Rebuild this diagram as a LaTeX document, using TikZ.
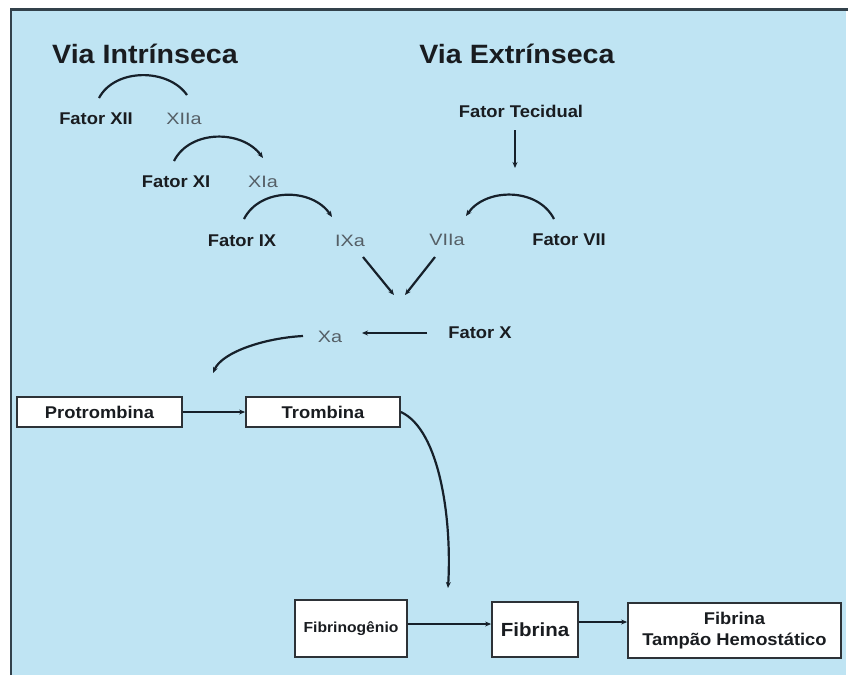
\documentclass[tikz,border=0pt]{standalone}
\usepackage{fontspec}
\setmainfont{Liberation Sans}
\newfontfamily\bfam[FakeStretch=1.08]{Liberation Sans}
\newfontfamily\gfam[FakeStretch=1.2]{Liberation Sans}
\usetikzlibrary{arrows.meta}
\definecolor{bgblue}{RGB}{191,228,243}
\definecolor{lc}{RGB}{22,32,42}
\definecolor{txtgray}{RGB}{85,95,102}
\definecolor{bordc}{RGB}{50,65,75}
\definecolor{boxline}{RGB}{45,50,55}
\definecolor{txtdark}{RGB}{25,28,32}
\begin{document}
\begin{tikzpicture}[x=1pt,y=-1pt,
  fac/.style={font=\bfam\bfseries\fontsize{17}{20}\selectfont, inner sep=0pt, anchor=base, text=txtdark},
  act/.style={font=\gfam\fontsize{16.5}{20}\selectfont, inner sep=0pt, anchor=base, text=txtgray},
  ttl/.style={font=\bfam\bfseries\fontsize{26.5}{30}\selectfont, inner sep=0pt, anchor=base, text=txtdark},
  bx/.style={draw=boxline, line width=1.8pt, fill=white, inner sep=0pt, align=center, text=txtdark},
  conn/.style={draw=lc, line width=2.2pt},
  arr/.style={conn, -{Stealth[length=6pt,width=5pt]}}]
\useasboundingbox (0,0) rectangle (848,675);
\fill[white] (0,0) rectangle (848,675);
\fill[bgblue] (10,9) rectangle (846,675);
\draw[bordc, line width=2.5pt] (11.2,675) -- (11.2,9.5) -- (848,9.5);

% titles
\node[ttl] (vi) at (145,63) {Via Intrínseca};
\node[ttl] (ve) at (517,63) {Via Extrínseca};

% intrinsic
\node[fac] (f12) at (96,124) {Fator XII};
\node[act] (a12) at (184,124) {XIIa};
\node[fac] (f11) at (176,187) {Fator XI};
\node[act] (a11) at (263,187) {XIa};
\node[fac] (f9) at (242,246) {Fator IX};
\node[act] (a9) at (350,246) {IXa};

% extrinsic
\node[fac] (ft) at (521,117) {Fator Tecidual};
\node[act] (a7) at (447,245) {VIIa};
\node[fac] (f7) at (569,245) {Fator VII};

% common
\node[act] (xa) at (330,342) {Xa};
\node[fac] (f10) at (480,338) {Fator X};

% boxes
\node[bx, minimum width=165pt, minimum height=30pt, font=\bfam\bfseries\fontsize{17}{20}\selectfont] (pro) at (99.5,412) {Protrombina};
\node[bx, minimum width=154pt, minimum height=30pt, font=\bfam\bfseries\fontsize{17}{20}\selectfont] (tro) at (323,412) {Trombina};
\node[bx, minimum width=112pt, minimum height=57pt, font=\bfam\bfseries\fontsize{14.5}{18}\selectfont] (fg) at (351,628.5) {Fibrinogênio};
\node[bx, minimum width=86pt, minimum height=55pt, font=\bfam\bfseries\fontsize{19}{22}\selectfont] (fb) at (535,629.5) {Fibrina};
\node[bx, minimum width=213pt, minimum height=55pt, font=\bfam\bfseries\fontsize{17}{21}\selectfont] (tp) at (734.5,630.5) {Fibrina\\Tampão Hemostático};

% connector end points
\coordinate (c1s) at (99,98);   \coordinate (c1e) at (187,95);
\coordinate (c2s) at (174,161); \coordinate (c2e) at (263,158);
\coordinate (c3s) at (244,219); \coordinate (c3e) at (332,217);
\coordinate (c7s) at (554,219); \coordinate (c7e) at (466,216);
\coordinate (tfs) at (515,130); \coordinate (tfe) at (515,168);
\coordinate (ixs) at (363,257); \coordinate (ixe) at (394,295);
\coordinate (vis) at (435,257); \coordinate (vie) at (405,295);
\coordinate (fxs) at (427,333); \coordinate (fxe) at (362,333);
\coordinate (xas) at (303,336); \coordinate (xae) at (213,373);
\coordinate (tre) at (448,588);

% arcs
\draw[conn] (c1s) .. controls (115,68) and (168,68) .. (c1e);
\draw[arr] (c2s) .. controls (190,129.5) and (242,129.5) .. (c2e);
\draw[arr] (c3s) .. controls (260,187.5) and (312,187.5) .. (c3e);
\draw[arr] (c7s) .. controls (538,187.5) and (486,187.5) .. (c7e);
\draw[arr] (tfs) -- (tfe);
\draw[arr] (ixs) -- (ixe);
\draw[arr] (vis) -- (vie);
\draw[arr] (fxs) -- (fxe);
\draw[arr] (xas) .. controls (265,338) and (222,352) .. (xae);

% box connectors
\draw[arr, line width=1.9pt] (pro.east) -- (tro.west);
\draw[arr] (tro.east) .. controls (440,430) and (452,520) .. (tre);
\draw[arr, line width=1.9pt] ([yshift=4.5pt]fg.east) -- ([yshift=4.5pt]fg.east -| fb.west);
\draw[arr, line width=1.9pt] ([yshift=7.5pt]fb.east) -- ([yshift=7.5pt]fb.east -| tp.west);
\end{tikzpicture}
\end{document}
